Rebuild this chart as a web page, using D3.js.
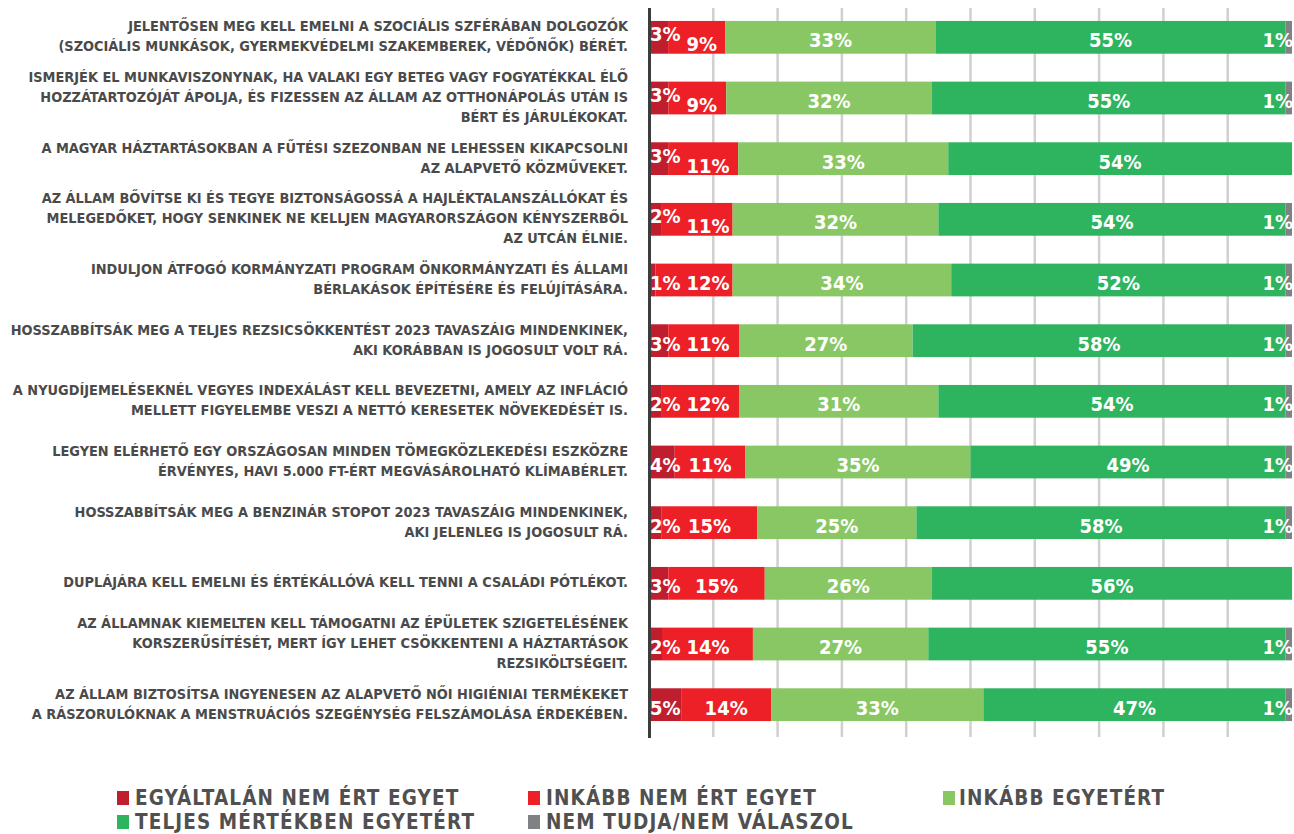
<!DOCTYPE html>
<html lang="hu">
<head>
<meta charset="UTF-8">
<title>Támogatottság</title>
<style>
    body { margin: 0; background: #fff; }
    svg { display: block; }
    .lbl { font-family: "DejaVu Sans Condensed", "DejaVu Sans", sans-serif; font-weight: bold; font-size: 14.4px; fill: #4a4a4a; }
    .pct { font-family: "DejaVu Sans Condensed", "DejaVu Sans", sans-serif; font-weight: bold; font-size: 20px; fill: #fff; }
    .leg { font-family: "DejaVu Sans Condensed", "DejaVu Sans", sans-serif; font-weight: bold; font-size: 20.5px; letter-spacing: 1.1px; fill: #505050; }
</style>
</head>
<body>
<svg id="chart"></svg>
<script src="https://cdnjs.cloudflare.com/ajax/libs/d3/7.9.0/d3.min.js"></script>
<script>
// statements (one entry per bar, split into lines)
const statements = [
    ["JELENTŐSEN MEG KELL EMELNI A SZOCIÁLIS SZFÉRÁBAN DOLGOZÓK", "(SZOCIÁLIS MUNKÁSOK, GYERMEKVÉDELMI SZAKEMBEREK, VÉDŐNŐK) BÉRÉT."],
    ["ISMERJÉK EL MUNKAVISZONYNAK, HA VALAKI EGY BETEG VAGY FOGYATÉKKAL ÉLŐ", "HOZZÁTARTOZÓJÁT ÁPOLJA, ÉS FIZESSEN AZ ÁLLAM AZ OTTHONÁPOLÁS UTÁN IS", "BÉRT ÉS JÁRULÉKOKAT."],
    ["A MAGYAR HÁZTARTÁSOKBAN A FŰTÉSI SZEZONBAN NE LEHESSEN KIKAPCSOLNI", "AZ ALAPVETŐ KÖZMŰVEKET."],
    ["AZ ÁLLAM BŐVÍTSE KI ÉS TEGYE BIZTONSÁGOSSÁ A HAJLÉKTALANSZÁLLÓKAT ÉS", "MELEGEDŐKET, HOGY SENKINEK NE KELLJEN MAGYARORSZÁGON KÉNYSZERBŐL", "AZ UTCÁN ÉLNIE."],
    ["INDULJON ÁTFOGÓ KORMÁNYZATI PROGRAM ÖNKORMÁNYZATI ÉS ÁLLAMI", "BÉRLAKÁSOK ÉPÍTÉSÉRE ÉS FELÚJÍTÁSÁRA."],
    ["HOSSZABBÍTSÁK MEG A TELJES REZSICSÖKKENTÉST 2023 TAVASZÁIG MINDENKINEK,", "AKI KORÁBBAN IS JOGOSULT VOLT RÁ."],
    ["A NYUGDÍJEMELÉSEKNÉL VEGYES INDEXÁLÁST KELL BEVEZETNI, AMELY AZ INFLÁCIÓ", "MELLETT FIGYELEMBE VESZI A NETTÓ KERESETEK NÖVEKEDÉSÉT IS."],
    ["LEGYEN ELÉRHETŐ EGY ORSZÁGOSAN MINDEN TÖMEGKÖZLEKEDÉSI ESZKÖZRE", "ÉRVÉNYES, HAVI 5.000 FT-ÉRT MEGVÁSÁROLHATÓ KLÍMABÉRLET."],
    ["HOSSZABBÍTSÁK MEG A BENZINÁR STOPOT 2023 TAVASZÁIG MINDENKINEK,", "AKI JELENLEG IS JOGOSULT RÁ."],
    ["DUPLÁJÁRA KELL EMELNI ÉS ÉRTÉKÁLLÓVÁ KELL TENNI A CSALÁDI PÓTLÉKOT."],
    ["AZ ÁLLAMNAK KIEMELTEN KELL TÁMOGATNI AZ ÉPÜLETEK SZIGETELÉSÉNEK", "KORSZERŰSÍTÉSÉT, MERT ÍGY LEHET CSÖKKENTENI A HÁZTARTÁSOK", "REZSIKÖLTSÉGEIT."],
    ["AZ ÁLLAM BIZTOSÍTSA INGYENESEN AZ ALAPVETŐ NŐI HIGIÉNIAI TERMÉKEKET", "A RÁSZORULÓKNAK A MENSTRUÁCIÓS SZEGÉNYSÉG FELSZÁMOLÁSA ÉRDEKÉBEN."]
];

// answers, in percent
const disagreeFully  = [3, 3, 3, 2, 1, 3, 2, 4, 2, 3, 2, 5];
const disagreeRather = [9, 9, 11, 11, 12, 11, 12, 11, 15, 15, 14, 14];
const agreeRather    = [33, 32, 33, 32, 34, 27, 31, 35, 25, 26, 27, 33];
const agreeFully     = [55, 55, 54, 54, 52, 58, 54, 49, 58, 56, 55, 47];
const dontKnow       = [1, 1, 0, 1, 1, 1, 1, 1, 1, 0, 1, 1];

const seriesNames = ["EGYÁLTALÁN NEM ÉRT EGYET", "INKÁBB NEM ÉRT EGYET", "INKÁBB EGYETÉRT", "TELJES MÉRTÉKBEN EGYETÉRT", "NEM TUDJA/NEM VÁLASZOL"];
const colors = ["#be1e2d", "#ed2027", "#89c765", "#2eb45f", "#808184"];

const keys = ["df", "dr", "ar", "af", "dk"];
const rows = statements.map((s, i) => ({
    i: i,
    df: disagreeFully[i], dr: disagreeRather[i], ar: agreeRather[i], af: agreeFully[i], dk: dontKnow[i]
}));

const W = 1294, H = 834;
const svg = d3.select("#chart").attr("width", W).attr("height", H);

const x = d3.scaleLinear().domain([0, 1]).range([649, 1292]);
const y = d3.scaleBand().domain(d3.range(statements.length)).range([7, 735])
    .paddingInner(0.46).paddingOuter(0.23);
const color = d3.scaleOrdinal().domain(keys).range(colors);

// every row is stretched to the full width
const stacked = d3.stack().keys(keys).offset(d3.stackOffsetExpand)(rows);

// grid
svg.append("g")
    .selectAll("line")
    .data(d3.range(0.1, 0.95, 0.1))
    .join("line")
    .attr("x1", d => x(d)).attr("x2", d => x(d))
    .attr("y1", 8).attr("y2", 737)
    .attr("stroke", "#d0d0d0")
    .attr("stroke-width", 2.5);

// bars
svg.append("g")
    .selectAll("g")
    .data(stacked)
    .join("g")
    .attr("fill", d => color(d.key))
    .selectAll("rect")
    .data(d => d)
    .join("rect")
    .attr("x", d => x(d[0]))
    .attr("y", d => y(d.data.i))
    .attr("width", d => x(d[1]) - x(d[0]))
    .attr("height", y.bandwidth());

// vertical axis line
svg.append("line")
    .attr("x1", 649.5).attr("x2", 649.5)
    .attr("y1", 8).attr("y2", 738)
    .attr("stroke", "#3c3c3c")
    .attr("stroke-width", 3);

// percent labels
const pctG = svg.append("g").attr("class", "pct");
rows.forEach(r => {
    const cy = y(r.i) + y.bandwidth() / 2;
    const segs = stacked.map(s => s[r.i]);
    const base = cy + 10;
    const stagger = r.i < 4; // the small red labels are shifted apart in the top rows
    let prevEnd = -Infinity;
    keys.forEach((k, j) => {
        const v = r[k];
        if (!v) return;
        const x0 = x(segs[j][0]), x1 = x(segs[j][1]);
        const t = pctG.append("text").text(v + "%");
        if (j === 0) {
            t.attr("x", 650).attr("y", base - (stagger ? 6 : 0)).attr("text-anchor", "start");
            prevEnd = 650 + t.node().getComputedTextLength();
        } else if (j === 4) {
            t.attr("x", x1 + 1).attr("y", base).attr("text-anchor", "end");
        } else {
            const w = t.node().getComputedTextLength();
            let cx = (x0 + x1) / 2;
            if (cx - w / 2 < prevEnd + 6) cx = prevEnd + 6 + w / 2;
            t.attr("x", cx).attr("y", base + (j === 1 && stagger ? 4 : 0)).attr("text-anchor", "middle");
            prevEnd = cx + w / 2;
        }
    });
});

// statement labels
const lineH = 20;
svg.append("g").attr("class", "lbl")
    .selectAll("text")
    .data(statements)
    .join("text")
    .attr("text-anchor", "end")
    .attr("x", 628)
    .attr("y", (d, i) => y(i) + y.bandwidth() / 2 - 1 - (d.length - 1) * lineH / 2 + 5)
    .each(function (d) {
        d3.select(this).selectAll("tspan")
            .data(d)
            .join("tspan")
            .attr("x", 628)
            .attr("dy", (t, k) => k === 0 ? 0 : lineH)
            .text(t => t);
    });

// legend
const legX = [117, 528, 943];
const legY = [798, 822];
const leg = svg.append("g").selectAll("g")
    .data(seriesNames)
    .join("g")
    .attr("transform", (d, i) => `translate(${legX[i % 3]},${legY[Math.floor(i / 3)]})`);
leg.append("rect")
    .attr("x", 0).attr("y", -7)
    .attr("width", 12).attr("height", 14)
    .attr("fill", (d, i) => colors[i]);
leg.append("text")
    .attr("class", "leg")
    .attr("x", (d, i) => i === 2 ? 16 : 18)
    .attr("y", 6.5)
    .text(d => d);
</script>
</body>
</html>
